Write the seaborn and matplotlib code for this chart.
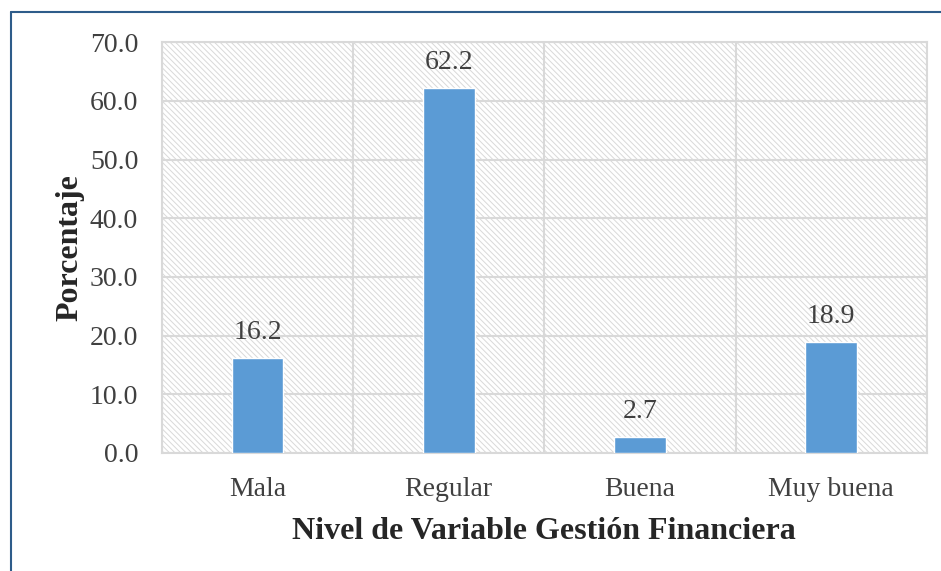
import numpy as np
import pandas as pd
import seaborn as sns
import matplotlib.pyplot as plt
from matplotlib.patches import Rectangle
from matplotlib.lines import Line2D

categorias = ["Mala", "Regular", "Buena", "Muy buena"]
porcentajes = [16.2, 62.2, 2.7, 18.9]
y_ticks = [0, 10, 20, 30, 40, 50, 60, 70]

df = pd.DataFrame({"Nivel": categorias, "Porcentaje": porcentajes})

sns.set_theme(style="white")
plt.rcParams['font.family'] = ['Liberation Serif', 'DejaVu Serif']
plt.rcParams['hatch.color'] = '#d9d9d9'
plt.rcParams['hatch.linewidth'] = 0.7

fig = plt.figure(figsize=(9.41, 5.71), dpi=100)
ax = fig.add_axes([0.172, 0.2067, 0.813, 0.7193])

# hatched plot background
ax.add_patch(Rectangle((0, 0), 1, 1, transform=ax.transAxes, facecolor='white',
                       edgecolor='#d9d9d9', hatch='\\' * 6, linewidth=0, zorder=0))

sns.barplot(data=df, x="Nivel", y="Porcentaje", color="#5B9BD5", width=0.27,
            saturation=1, ax=ax, zorder=3)

ax.set_xlim(-0.5, 3.5)
ax.set_ylim(0, 70)
ax.set_yticks(y_ticks)
ax.set_yticklabels([f"{v:.1f}" for v in y_ticks])
ax.set_xticks(np.arange(-0.5, 3.6, 1), minor=True)
ax.grid(axis='y', which='major', color='#d9d9d9', linewidth=1.5, zorder=1)
ax.grid(axis='x', which='minor', color='#d9d9d9', linewidth=1.5, zorder=1)
ax.set_axisbelow(True)
ax.tick_params(axis='both', which='both', length=0, labelsize=20, colors='#404040')
ax.tick_params(axis='y', pad=17)
ax.tick_params(axis='x', pad=17)
for s in ax.spines.values():
    s.set_color('#d9d9d9')
    s.set_linewidth(1.5)

for i, v in enumerate(porcentajes):
    ax.text(i, v + 2.2, f"{v:.1f}", ha='center', va='bottom', fontsize=20, color='#404040')

ax.set_xlabel("Nivel de Variable Gestión Financiera", fontsize=23, fontweight='bold',
              color='#262626', labelpad=11)
ax.set_ylabel("Porcentaje", fontsize=23, fontweight='bold', color='#262626', labelpad=4)

# outer frame (left and top visible)
fig.add_artist(Line2D([11/941, 11/941], [0, 1 - 12/571], color='#2E5C8A', linewidth=1.5))
fig.add_artist(Line2D([11/941, 1], [1 - 12/571, 1 - 12/571], color='#2E5C8A', linewidth=1.5))

fig.savefig("out.png", dpi=100)
